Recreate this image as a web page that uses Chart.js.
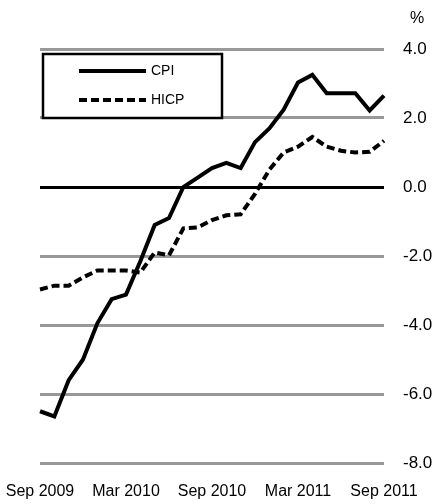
<!DOCTYPE html>
<html>
<head>
<meta charset="utf-8">
<script src="https://cdn.jsdelivr.net/npm/chart.js@4"></script>
<style>
  html, body { margin: 0; padding: 0; background: #fff; }
  #wrap { width: 438px; height: 504px; position: relative; }
</style>
</head>
<body>
<div id="wrap"><canvas id="grafica" width="438" height="504"></canvas></div>
<script>
var meses = ["Sep 2009","Oct 2009","Nov 2009","Dec 2009","Jan 2010","Feb 2010","Mar 2010",
  "Apr 2010","May 2010","Jun 2010","Jul 2010","Aug 2010","Sep 2010","Oct 2010","Nov 2010",
  "Dec 2010","Jan 2011","Feb 2011","Mar 2011","Apr 2011","May 2011","Jun 2011","Jul 2011",
  "Aug 2011","Sep 2011"];
var cpi = [-6.5,-6.65,-5.6,-5.0,-3.95,-3.25,-3.12,-2.15,-1.1,-0.9,0.0,0.27,0.55,0.7,0.55,
  1.3,1.7,2.24,3.03,3.25,2.72,2.72,2.72,2.22,2.65];
var hicp = [-2.97,-2.86,-2.86,-2.62,-2.42,-2.42,-2.42,-2.48,-1.9,-1.98,-1.2,-1.17,-0.96,-0.82,-0.79,
  -0.2,0.5,1.0,1.17,1.45,1.17,1.05,1.0,1.02,1.34];
var marcasY = [-8, -6, -4, -2, 0, 2, 4];

var fuente = "'Liberation Sans', Arial, sans-serif";

var extras = {
    id: "extras",
    afterDraw: function(chart) {
        var c = chart.ctx;
        c.save();
        // legend box
        c.fillStyle = "#fff";
        c.fillRect(43, 54, 179, 64);
        c.strokeStyle = "#000";
        c.lineWidth = 2.5;
        c.strokeRect(43, 54, 179, 64);
        c.lineWidth = 4;
        c.beginPath();
        c.moveTo(79, 71); c.lineTo(146, 71);
        c.stroke();
        c.setLineDash([8, 4]);
        c.beginPath();
        c.moveTo(79, 100); c.lineTo(146, 100);
        c.stroke();
        c.setLineDash([]);
        c.fillStyle = "#000";
        c.font = "14px " + fuente;
        c.textBaseline = "middle";
        c.fillText("CPI", 151, 71);
        c.fillText("HICP", 151, 100);
        c.font = "16px " + fuente;
        c.textAlign = "center";
        c.fillText("%", 417, 19);
        c.restore();
    }
};

var ctx = document.getElementById("grafica").getContext("2d");
new Chart(ctx, {
    type: "line",
    data: {
        labels: meses,
        datasets: [
            { label: "CPI", data: cpi, borderColor: "#000", borderWidth: 4,
              pointRadius: 0, fill: false, tension: 0 },
            { label: "HICP", data: hicp, borderColor: "#000", borderWidth: 4,
              borderDash: [8, 4], pointRadius: 0, fill: false, tension: 0 }
        ]
    },
    options: {
        responsive: false,
        animation: false,
        layout: { padding: { left: 40, top: 49, right: 0, bottom: 0 } },
        plugins: { legend: { display: false }, tooltip: { enabled: false } },
        scales: {
            x: {
                offset: false,
                grid: { display: false, drawTicks: false },
                border: { display: false },
                ticks: {
                    autoSkip: false, maxRotation: 0, padding: 19, color: "#000",
                    font: { family: fuente, size: 16 },
                    callback: function(v, i) { return i % 6 === 0 ? meses[i] : ""; }
                },
                afterFit: function(s) { s.height = 41; s.paddingLeft = 0; s.paddingRight = 0; }
            },
            y: {
                position: "right",
                min: -8, max: 4,
                afterBuildTicks: function(s) { s.ticks = marcasY.map(function(v) { return { value: v }; }); },
                grid: {
                    drawTicks: false, lineWidth: 3,
                    color: function(c) { return c.tick && c.tick.value === 0 ? "#000" : "#999"; }
                },
                border: { display: false },
                ticks: {
                    padding: 19, color: "#000",
                    font: { family: fuente, size: 17 },
                    callback: function(v) { return v.toFixed(1); }
                },
                afterFit: function(s) { s.width = 54; }
            }
        }
    },
    plugins: [extras]
});
</script>
</body>
</html>
